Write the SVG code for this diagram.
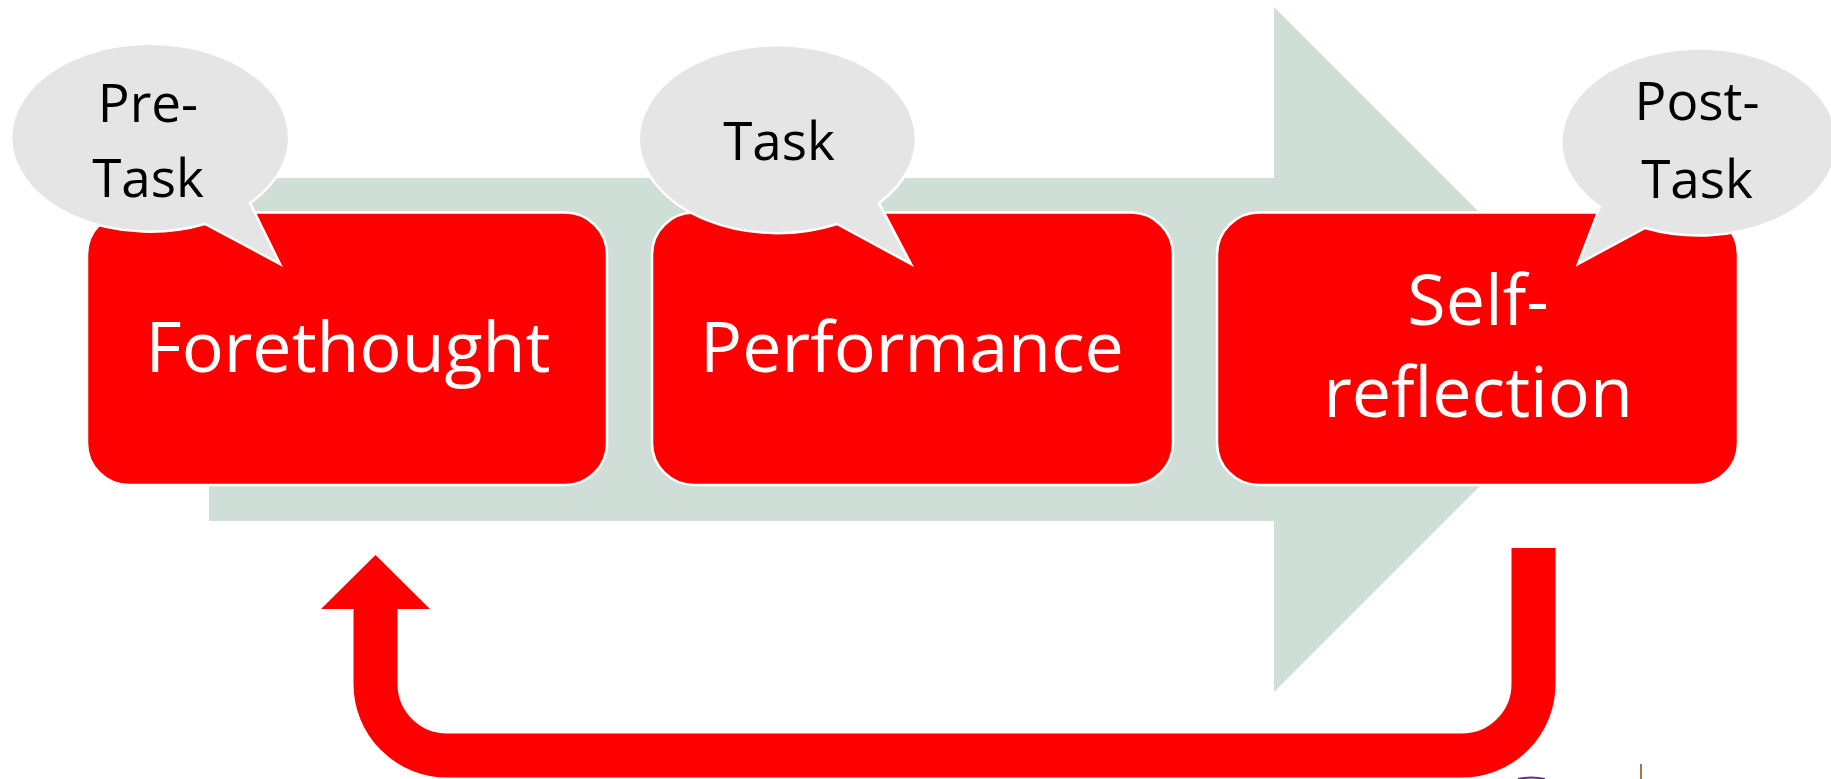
<svg xmlns="http://www.w3.org/2000/svg" width="1831" height="779" viewBox="0 0 1831 779">
  <style>
    .box { fill: #FF0000; stroke: #FFFFFF; stroke-width: 2.5; }
    .boxtxt { font-family: "Open Sans", "Liberation Sans", sans-serif; font-size: 70px; fill: #FFFFFF; text-anchor: middle; }
    .bubble { fill: #E5E5E5; stroke: #FFFFFF; stroke-width: 2.5; stroke-linejoin: miter; }
    .bubtxt { font-family: "Open Sans", "Liberation Sans", sans-serif; font-size: 53px; fill: #000000; text-anchor: middle; }
    .loop { fill: none; stroke: #FF0000; stroke-width: 44; }
  </style>
  <rect width="1831" height="779" fill="#FFFFFF"/>

  <g id="process-arrow">
    <polygon points="209,178 1274,178 1274,7 1616.5,349.5 1274,692 1274,521 209,521" fill="#CFDFD7"/>
  </g>

  <g id="node-forethought">
    <rect class="box" x="87" y="212.5" width="520" height="272.5" rx="42" ry="42"/>
    <text class="boxtxt" x="348" y="372">Forethought</text>
  </g>
  <g id="node-performance">
    <rect class="box" x="652" y="212.5" width="521" height="272.5" rx="42" ry="42"/>
    <text class="boxtxt" x="912" y="372">Performance</text>
  </g>
  <g id="node-selfreflection">
    <rect class="box" x="1217" y="212.5" width="521" height="272.5" rx="42" ry="42"/>
    <text class="boxtxt" x="1478" y="325">Self-</text>
    <text class="boxtxt" x="1478" y="417">reflection</text>
  </g>

  <g id="callout-pretask">
    <path class="bubble" d="M 250 203 A 139 94 0 1 0 205 224 L 280 264 Z"/>
    <text class="bubtxt" x="148" y="122">Pre-</text>
    <text class="bubtxt" x="148" y="197">Task</text>
  </g>
  <g id="callout-task">
    <path class="bubble" d="M 879 203 A 138.5 94 0 1 0 837 224 L 911 264 Z"/>
    <text class="bubtxt" x="779" y="160">Task</text>
  </g>
  <g id="callout-posttask">
    <path class="bubble" d="M 1645 228 A 138 93.5 0 1 0 1600 207 L 1578 264 Z"/>
    <text class="bubtxt" x="1697" y="120">Post-</text>
    <text class="bubtxt" x="1697" y="198">Task</text>
  </g>

  <g id="connectors">
    <path class="loop" d="M 1533.5 548 V 684 A 71.5 71.5 0 0 1 1462 755.5 H 447 A 71.5 71.5 0 0 1 375.5 684 V 608"/>
    <polygon points="321,609 430,609 375.5,555" fill="#FF0000"/>
  </g>

  <g id="artifacts">
    <line x1="1641" y1="764" x2="1641" y2="779" stroke="#B07050" stroke-width="2"/>
    <path d="M 1518 779 Q 1531 776 1545 779" fill="none" stroke="#6A2A8A" stroke-width="2"/>
  </g>
</svg>
